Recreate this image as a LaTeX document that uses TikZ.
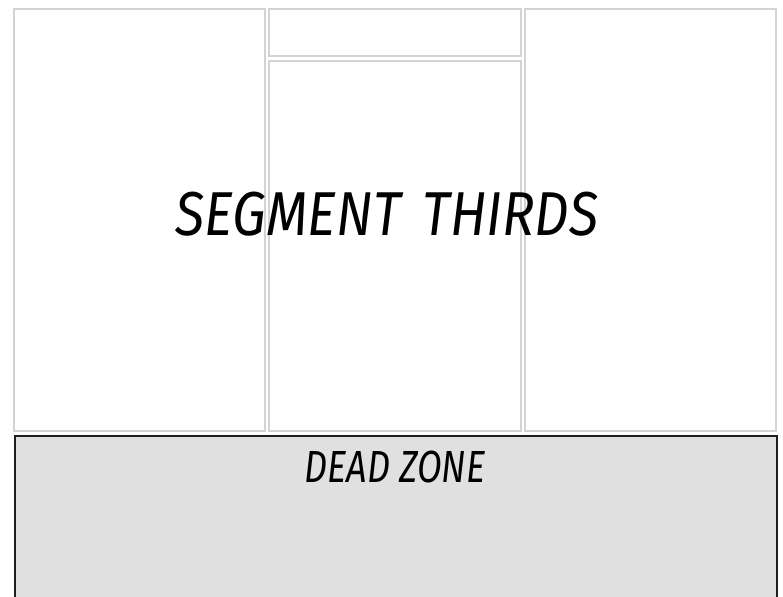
\documentclass[tikz,border=0pt]{standalone}
\usepackage{fontspec}
\newfontfamily\handfont[FakeStretch=0.8]{Fira Sans}
\newfontfamily\bighandfont[FakeStretch=0.87,WordSpace=1.6]{Fira Sans}

\definecolor{frame}{HTML}{D3D3D3}
\definecolor{deadfill}{HTML}{E0E0E0}
\definecolor{deadline}{HTML}{1E1E1E}

\begin{document}
\begin{tikzpicture}[x=1pt, y=1pt,
  third/.style={rectangle,draw=frame,line width=2pt,inner sep=0pt},
  label/.style={text=black, inner sep=0pt}]
  \useasboundingbox (0,0) rectangle (783,596);
  % dead zone
  \draw[fill=deadfill, draw=deadline, line width=2pt] (15,-6) rectangle (777,160);
  % thirds
  \node[third, minimum width=251pt, minimum height=422pt] (left) at (139.5,376) {};
  \node[third, minimum width=252pt, minimum height=47pt] (top) at (395,563.5) {};
  \node[third, minimum width=252pt, minimum height=370pt] (mid) at (395,350) {};
  \node[third, minimum width=251pt, minimum height=422pt] (right) at (650.5,376) {};
  % labels
  \node[label, font=\bighandfont\itshape\fontsize{62}{62}\selectfont] (thirds) at (387,382) {SEGMENT THIRDS};
  \node[label, font=\handfont\itshape\fontsize{45}{45}\selectfont] (dead) at (395,129) {DEAD ZONE};
\end{tikzpicture}
\end{document}
